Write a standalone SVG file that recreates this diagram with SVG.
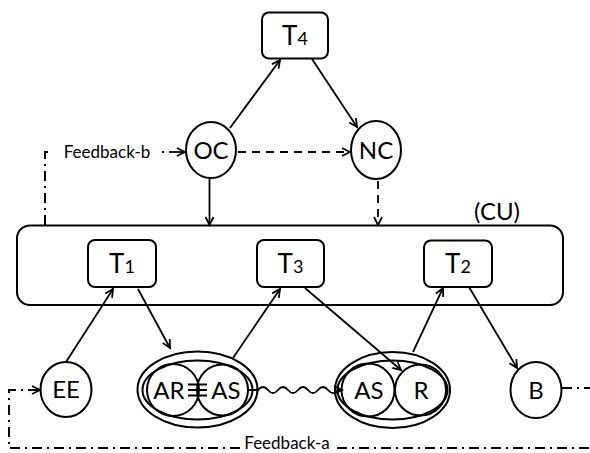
<svg xmlns="http://www.w3.org/2000/svg" width="590" height="453" viewBox="0 0 590 453">
<defs>
<marker id="ah" markerUnits="userSpaceOnUse" markerWidth="12" markerHeight="12" refX="9" refY="5" orient="auto" viewBox="0 0 12 10">
<path d="M1,1 L9,5 L1,9" fill="none" stroke="#000" stroke-width="1.8" stroke-linejoin="miter"/>
</marker>
<style>
.s{fill:#fff;stroke:#000;stroke-width:2}
.n{fill:none;stroke:#000;stroke-width:2}
.c{fill:none;stroke:#000;stroke-width:1.8}
.d{stroke-dasharray:8 6}
.dd{fill:none;stroke:#000;stroke-width:2;stroke-dasharray:10 5 2 5}
.t{font-family:Lato,"Liberation Sans",sans-serif;font-size:24px;fill:#000;text-anchor:middle}
.tt{font-family:Lato,"Liberation Sans",sans-serif;font-size:26px;fill:#000;text-anchor:middle}
.sub{font-size:18px}
.f{font-family:Lato,"Liberation Sans",sans-serif;font-size:17px;fill:#000;text-anchor:middle}
</style>
</defs>
<rect width="590" height="453" fill="#fff"/>

<g id="CU">
<rect x="17" y="225.5" width="546" height="79.5" rx="13" class="s"/>
<text x="497" y="220" class="t">(CU)</text>
</g>
<g id="T4">
<rect x="262" y="12.5" width="66" height="46" rx="7" class="s"/>
<text x="295" y="45" class="tt">T<tspan class="sub">4</tspan></text>
</g>
<g id="T1">
<rect x="88" y="240" width="68" height="47" rx="7" class="s"/>
<text x="122" y="273" class="tt">T<tspan class="sub">1</tspan></text>
</g>
<g id="T3">
<rect x="257" y="240" width="67" height="47" rx="7" class="s"/>
<text x="290.5" y="273" class="tt">T<tspan class="sub">3</tspan></text>
</g>
<g id="T2">
<rect x="424" y="240.5" width="68" height="46.5" rx="7" class="s"/>
<text x="458" y="273" class="tt">T<tspan class="sub">2</tspan></text>
</g>
<g id="OC">
<ellipse cx="211" cy="150" rx="25" ry="28" class="s"/>
<text x="211" y="159" class="t">OC</text>
</g>
<g id="NC">
<ellipse cx="376" cy="150" rx="25" ry="29" class="s"/>
<text x="376" y="159" class="t">NC</text>
</g>
<g id="EE">
<ellipse cx="66" cy="389.5" rx="25.5" ry="27.5" class="s"/>
<text x="66" y="398" class="t">EE</text>
</g>
<g id="AR-AS">
<ellipse cx="197.5" cy="389.5" rx="60" ry="38" class="n"/>
<ellipse cx="197.5" cy="390" rx="55" ry="29.5" class="n"/>
<circle cx="173" cy="390" r="26" class="n"/>
<circle cx="222.5" cy="390" r="25.5" class="n"/>
<text x="169" y="399" class="t">AR</text>
<text x="226" y="399" class="t">AS</text>
<path d="M188,384.5 H207 M188,390 H207 M188,395.5 H207" class="c"/>
</g>
<g id="AS-R">
<ellipse cx="392.5" cy="390" rx="57.5" ry="38" class="n"/>
<ellipse cx="392.5" cy="390" rx="55" ry="29.5" class="n"/>
<circle cx="368" cy="390" r="26.5" class="n"/>
<circle cx="420.5" cy="390" r="25.5" class="n"/>
<text x="369" y="399" class="t">AS</text>
<text x="421" y="399" class="t">R</text>
</g>
<g id="B">
<ellipse cx="536" cy="390" rx="25.5" ry="28" class="s"/>
<text x="536" y="399" class="t">B</text>
</g>

<g id="connectors">
<line x1="230" y1="128" x2="280" y2="60" class="c" marker-end="url(#ah)"/>
<line x1="312" y1="59" x2="357" y2="127" class="c" marker-end="url(#ah)"/>
<line x1="238" y1="152" x2="350" y2="152" class="c d" marker-end="url(#ah)"/>
<line x1="209.5" y1="178" x2="209.5" y2="225" class="c" marker-end="url(#ah)"/>
<line x1="378" y1="181" x2="378" y2="225" class="c d" marker-end="url(#ah)"/>
<line x1="66" y1="362" x2="113" y2="289" class="c" marker-end="url(#ah)"/>
<line x1="138" y1="289" x2="170" y2="348" class="c" marker-end="url(#ah)"/>
<line x1="233" y1="358" x2="280" y2="289" class="c" marker-end="url(#ah)"/>
<line x1="305" y1="288" x2="401" y2="370" class="c" marker-end="url(#ah)"/>
<line x1="413" y1="352" x2="443" y2="288" class="c" marker-end="url(#ah)"/>
<line x1="469" y1="287" x2="517" y2="368" class="c" marker-end="url(#ah)"/>
<path d="M248,390 H258 q5,-6 10,0 t10,0 t10,0 t10,0 t10,0 t10,0 t10,0 t10,0 H342" class="c" marker-end="url(#ah)"/>
<!-- Feedback-b -->
<path d="M45,225 V152 H53" class="dd"/>
<text x="107" y="158" class="f">Feedback-b</text>
<line x1="162" y1="152" x2="164" y2="152" class="c"/>
<line x1="169" y1="152" x2="185" y2="152" class="c" marker-end="url(#ah)"/>
<!-- Feedback-a -->
<path d="M240,448 H9 V390 H40" class="dd" marker-end="url(#ah)"/>
<text x="287" y="449" class="f">Feedback-a</text>
<path d="M337,448 H590" class="dd"/>
<path d="M562,388 H590" class="dd" stroke-dasharray="16 6 2 6"/>
</g>
</svg>
